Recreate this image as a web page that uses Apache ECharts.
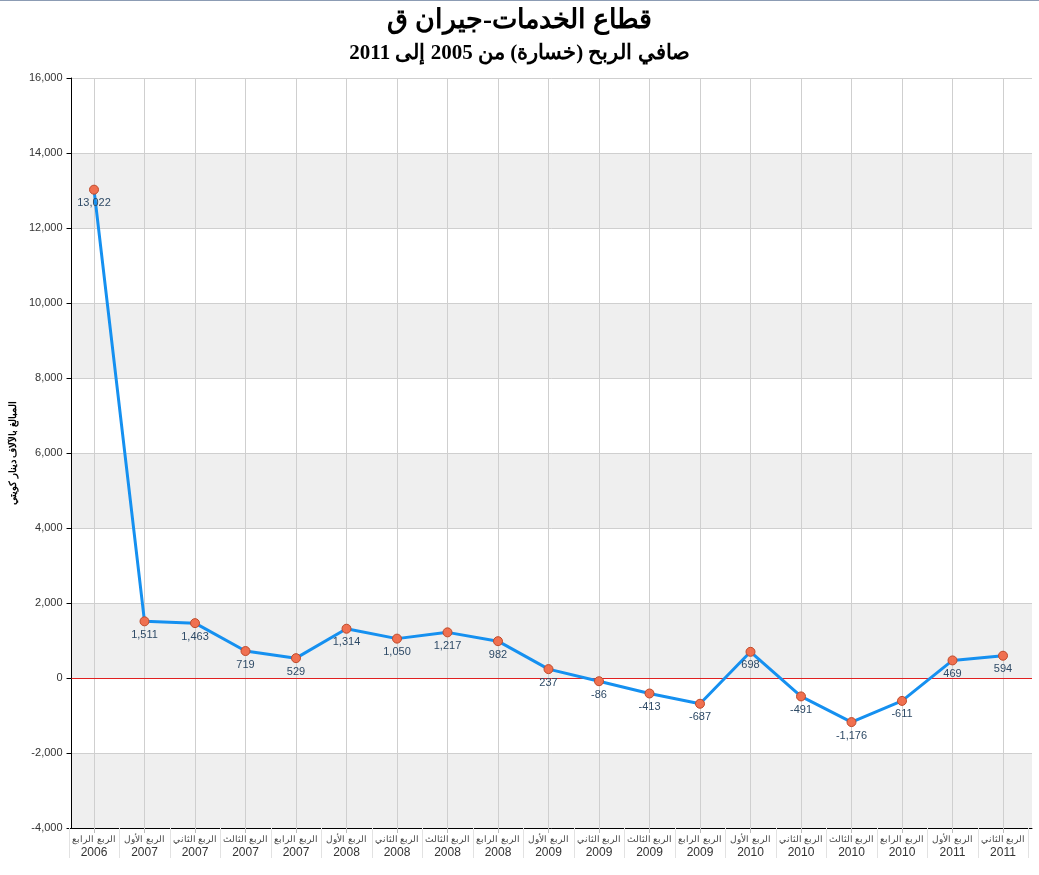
<!DOCTYPE html>
<html>
<head>
<meta charset="utf-8">
<script src="https://cdn.jsdelivr.net/npm/echarts@6/dist/echarts.min.js"></script>
<style>
html,body{margin:0;padding:0;background:#fff;}
#c{width:1039px;height:875px;}
</style>
</head>
<body>
<div id="c"></div>
<script>
const quarters = ['الربع الرابع','الربع الأول','الربع الثاني','الربع الثالث','الربع الرابع','الربع الأول','الربع الثاني','الربع الثالث','الربع الرابع','الربع الأول','الربع الثاني','الربع الثالث','الربع الرابع','الربع الأول','الربع الثاني','الربع الثالث','الربع الرابع','الربع الأول','الربع الثاني'];
const years = ['2006','2007','2007','2007','2007','2008','2008','2008','2008','2009','2009','2009','2009','2010','2010','2010','2010','2011','2011'];
const netProfit = [13022,1511,1463,719,529,1314,1050,1217,982,237,-86,-413,-687,698,-491,-1176,-611,469,594];
const yTicks = {min:-4000, max:16000, interval:2000};
const titleText = 'قطاع الخدمات-جيران ق';
const subtitleText = 'صافي الربح (خسارة) من 2005 إلى 2011';
const yAxisName = 'المبالغ بالآلاف دينار كويتي';

const categories = quarters.map((q,i)=>q+'\n'+years[i]);
const fmt = v => v.toLocaleString('en-US');

const chart = echarts.init(document.getElementById('c'));
chart.setOption({
  animation:false,
  backgroundColor:'#fff',
  graphic:[{type:'rect',shape:{x:0,y:0,width:1039,height:1},style:{fill:'#8c9cb4'}}],
  title:[
    {text:titleText,left:'center',top:3,textStyle:{fontFamily:'Liberation Serif',fontWeight:'bold',fontSize:27,color:'#000'}},
    {text:subtitleText,left:'center',top:38,textStyle:{fontFamily:'Liberation Serif',fontWeight:'bold',fontSize:21,color:'#000'}}
  ],
  grid:[
    {left:66,right:7,top:78,bottom:47},
    {left:94,right:36,top:78,bottom:47},
    {left:68.75,right:10.75,top:78,bottom:47}
  ],
  xAxis:[
    {gridIndex:0,type:'value',min:0,max:1,axisLine:{show:true,onZero:false,lineStyle:{color:'#000',width:1}},axisTick:{show:false},axisLabel:{show:false},splitLine:{show:false}},
    {gridIndex:1,type:'category',data:categories,boundaryGap:false,
      axisLine:{show:false,onZero:false},
      axisTick:{show:true,length:5,lineStyle:{color:'#bbb'}},
      splitLine:{show:true,lineStyle:{color:'#cfcfcf',width:1}},
      axisLabel:{interval:0,margin:6,color:'#333',fontFamily:'Liberation Sans',
        formatter:(v)=>{const p=v.split('\n');return '{q|'+p[0]+'}\n{y|'+p[1]+'}';},
        rich:{q:{fontSize:9,color:'#444',lineHeight:12,fontFamily:'Liberation Sans'},y:{fontSize:12,color:'#333',lineHeight:13,fontFamily:'Liberation Sans'}}}
    },
    {gridIndex:2,type:'category',data:categories,boundaryGap:true,
      axisLine:{show:false,onZero:false},axisLabel:{show:false},
      axisTick:{show:true,interval:0,length:30,lineStyle:{color:'#e2e2e2'}},splitLine:{show:false}}
  ],
  yAxis:[
    {gridIndex:0,type:'value',min:yTicks.min,max:yTicks.max,interval:yTicks.interval,
      name:yAxisName,nameLocation:'middle',nameGap:52,nameRotate:90,
      nameTextStyle:{fontSize:10,fontWeight:'bold',color:'#000',fontFamily:'Liberation Sans'},
      axisLine:{show:true,lineStyle:{color:'#000',width:1}},
      axisTick:{show:true,length:5,lineStyle:{color:'#000'}},
      axisLabel:{color:'#333',fontSize:11,fontFamily:'Liberation Sans',margin:9,formatter:v=>fmt(v)},
      splitLine:{show:true,lineStyle:{color:'#cfcfcf'}},
      splitArea:{show:true,areaStyle:{color:['#efefef','#ffffff']}}
    },
    {gridIndex:1,type:'value',min:yTicks.min,max:yTicks.max,interval:yTicks.interval,show:false,splitLine:{show:false}},
    {gridIndex:2,type:'value',min:yTicks.min,max:yTicks.max,interval:yTicks.interval,show:false,splitLine:{show:false}}
  ],
  series:[
    {type:'line',xAxisIndex:0,yAxisIndex:0,data:[[0,0]],symbol:'none',lineStyle:{opacity:0},silent:true,
      markLine:{silent:true,symbol:'none',label:{show:false},lineStyle:{color:'#e02020',width:1,type:'solid'},data:[{yAxis:0}]}},
    {type:'line',xAxisIndex:1,yAxisIndex:1,data:netProfit,
      lineStyle:{color:'#1590f0',width:3},
      symbol:'circle',symbolSize:9,
      itemStyle:{color:'#f07050',borderColor:'#c04a2a',borderWidth:1},
      label:{show:true,position:'bottom',distance:3,color:'#2e4a66',fontSize:11,fontFamily:'Liberation Sans',formatter:p=>fmt(p.value)},
      z:5
    }
  ]
});
</script>
</body>
</html>
